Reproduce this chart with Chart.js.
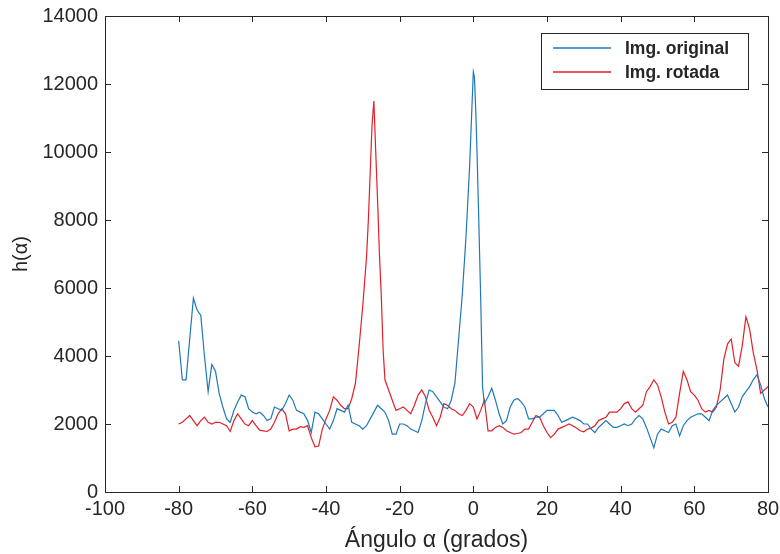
<!DOCTYPE html>
<html>
<head>
<meta charset="utf-8">
<script src="https://cdn.jsdelivr.net/npm/chart.js@4.4.1/dist/chart.umd.min.js"></script>
<style>
  html,body{margin:0;padding:0;background:#fff;}
  #wrap{width:780px;height:554px;}
</style>
</head>
<body>
<div id="wrap"><canvas id="chart" width="780" height="554"></canvas></div>
<script>
// ===== Datos =====
const xTicks = [-100,-80,-60,-40,-20,0,20,40,60,80];
const yTicks = [0,2000,4000,6000,8000,10000,12000,14000];

const angOriginal = [
  -80,-79,-78,-77,-76,-75,-74,-73,-72,-71,-70,-69,-68,-67,-66,-65,-64,-63,-62,-61,
  -60,-59,-58,-57,-56,-55,-54,-53,-52,-51,-50,-49,-48,-47,-46,-45,-44,-43,-42,-41,
  -40,-39,-38,-37,-36,-35,-34,-33,-32,-31,-30,-29,-28,-27,-26,-25,-24,-23,-22,-21,
  -20,-19,-18,-17,-16,-15,-14,-13,-12,-11,-10,-9,-8,-7,-6,-5,-4,-3,-2,-1,
  -0.5,0,0.3,0.7,1,1.5,2,2.5,3,4,5,6,7,8,9,10,11,12,13,14,
  15,16,17,18,19,20,21,22,23,24,25,26,27,28,29,30,31,32,33,34,
  35,36,37,38,39,40,41,42,43,44,45,46,47,48,49,50,51,52,53,54,
  55,56,57,58,59,60,61,62,63,64,65,66,67,68,69,70,71,72,73,74,
  75,76,77,78,79,80
];
const hOriginal = [
  4450,3300,3300,4500,5700,5350,5200,4000,2950,3750,3550,2900,2500,2150,2050,2400,2650,2850,2800,2450,
  2350,2300,2350,2250,2100,2150,2500,2450,2400,2600,2850,2700,2400,2350,2300,2100,1750,2350,2300,2150,
  2000,1850,2100,2450,2400,2350,2550,2050,2000,1950,1850,1950,2150,2350,2550,2450,2350,2100,1700,1700,
  2000,2000,1950,1850,1800,1750,2100,2600,3000,2950,2800,2650,2500,2450,2700,3200,4500,5800,7500,9600,
  11000,12350,12200,11100,10000,7900,5700,3100,2600,2800,3050,2700,2300,2000,2100,2500,2700,2750,2650,2500,
  2150,2150,2200,2200,2300,2400,2400,2400,2250,2050,2100,2150,2200,2150,2100,2000,2000,1850,1750,1900,
  2000,2100,2000,1900,1900,1950,2000,1950,2000,2150,2250,2150,1900,1600,1300,1700,1850,1800,1750,1950,
  2000,1650,1950,2100,2200,2250,2300,2300,2200,2100,2400,2550,2650,2750,2850,2600,2350,2500,2800,2950,
  3100,3300,3450,3150,2750,2500
];

const angRotada = [
  -80,-79,-78,-77,-76,-75,-74,-73,-72,-71,-70,-69,-68,-67,-66,-65,-64,-63,-62,-61,
  -60,-59,-58,-57,-56,-55,-54,-53,-52,-51,-50,-49,-48,-47,-46,-45,-44,-43,-42,-41,
  -40,-39,-38,-37,-36,-35,-34,-33,-32,-31,-30,-29,-28.5,-28,-27.5,-27,-26.5,-26,-25.5,-25,
  -24.5,-24,-23,-22,-21,-20,-19,-18,-17,-16,-15,-14,-13,-12,-11,-10,-9,-8,-7,-6,
  -5,-4,-3,-2,-1,0,1,2,3,4,5,6,7,8,9,10,11,12,13,14,
  15,16,17,18,19,20,21,22,23,24,25,26,27,28,29,30,31,32,33,34,
  35,36,37,38,39,40,41,42,43,44,45,46,47,48,49,50,51,52,53,54,
  55,56,57,58,59,60,61,62,63,64,65,66,67,68,69,70,71,72,73,74,
  75,76,77,78,79,80
];
const hRotada = [
  2000,2050,2150,2250,2100,1950,2100,2200,2050,2000,2050,2050,2000,1950,1780,2100,2300,2150,2000,1950,
  2100,1950,1820,1800,1780,1850,2050,2300,2450,2300,1800,1850,1850,1920,1900,1950,1600,1330,1350,1850,
  2150,2400,2800,2700,2550,2450,2450,2750,3200,4300,5500,6900,8000,9400,10800,11500,10000,8600,7000,5800,
  4200,3300,3000,2700,2400,2450,2500,2400,2300,2550,2850,3000,2800,2400,2200,1950,2200,2600,2550,2450,
  2400,2300,2250,2400,2600,2500,2150,2400,2700,1800,1800,1900,1950,1900,1800,1750,1700,1720,1750,1850,
  1850,2050,2250,2200,1950,1750,1600,1700,1850,1900,1950,2000,1950,1880,1800,1770,1850,1880,1950,2100,
  2150,2200,2350,2350,2350,2450,2600,2650,2450,2350,2450,2550,2950,3100,3300,3150,2800,2350,2000,2050,
  2200,2900,3550,3300,2950,2850,2700,2450,2350,2400,2350,2500,3000,3900,4350,4500,3800,3700,4300,5150,
  4800,4100,3600,2900,3000,3100
];

const axisColor = "#262626";
const fontFam = "'Liberation Sans', Arial, Helvetica, sans-serif";

// ===== Caja y ticks hacia dentro (estilo MATLAB) =====
const boxPlugin = {
  id: "boxPlugin",
  afterDraw(chart){
    const {ctx, chartArea:a, scales} = chart;
    ctx.save();
    ctx.strokeStyle = axisColor; ctx.lineWidth = 1;
    ctx.strokeRect(a.left+0.5, a.top+0.5, a.right-a.left, a.bottom-a.top);
    const len = 6;
    ctx.beginPath();
    xTicks.forEach(v=>{
      const px = Math.round(scales.x.getPixelForValue(v))+0.5;
      ctx.moveTo(px,a.bottom); ctx.lineTo(px,a.bottom-len);
      ctx.moveTo(px,a.top); ctx.lineTo(px,a.top+len);
    });
    yTicks.forEach(v=>{
      const py = Math.round(scales.y.getPixelForValue(v))+0.5;
      ctx.moveTo(a.left,py); ctx.lineTo(a.left+len,py);
      ctx.moveTo(a.right,py); ctx.lineTo(a.right-len,py);
    });
    ctx.stroke();

    // leyenda
    const bw = 207, bh = 56;
    const bx = a.right - 20 - bw, by = a.top + 17;
    ctx.fillStyle = "#fff";
    ctx.fillRect(bx, by, bw, bh);
    ctx.strokeStyle = axisColor;
    ctx.strokeRect(bx+0.5, by+0.5, bw, bh);
    ctx.font = "bold 17.5px " + fontFam;
    ctx.textBaseline = "middle";
    chart.data.datasets.forEach((ds,i)=>{
      const ly = by + 15 + i*24;
      ctx.strokeStyle = ds.borderColor; ctx.lineWidth = 1.3;
      ctx.beginPath(); ctx.moveTo(bx+12, ly); ctx.lineTo(bx+70, ly); ctx.stroke();
      ctx.fillStyle = axisColor;
      ctx.fillText(ds.label, bx+84, ly+1);
    });
    ctx.restore();
  }
};

new Chart(document.getElementById("chart"), {
  type: "line",
  data: {
    datasets: [
      {label:"Img. original", data: angOriginal.map((x,i)=>({x, y:hOriginal[i]})),
       borderColor:"#1f78b8", borderWidth:1.2, pointRadius:0, tension:0},
      {label:"Img. rotada", data: angRotada.map((x,i)=>({x, y:hRotada[i]})),
       borderColor:"#e0202a", borderWidth:1.2, pointRadius:0, tension:0}
    ]
  },
  options: {
    responsive: false,
    animation: false,
    layout: {padding:{top:16, right:12, left:0, bottom:0}},
    plugins: {legend:{display:false}, tooltip:{enabled:false}},
    scales: {
      x: {
        type: "linear", min: -100, max: 80,
        afterBuildTicks: s => { s.ticks = xTicks.map(v=>({value:v})); },
        afterFit: s => { s.height = 62; s.paddingLeft = 0; s.paddingRight = 0; },
        grid: {drawOnChartArea:false, drawTicks:false},
        border: {display:false},
        ticks: {color:axisColor, font:{family:fontFam, size:20}, padding:5, maxRotation:0,
                callback: v => String(v)},
        title: {display:true, text:"Ángulo α (grados)", color:axisColor,
                font:{family:fontFam, size:23}, padding:{top:0, bottom:0}}
      },
      y: {
        min: 0, max: 14000,
        afterBuildTicks: s => { s.ticks = yTicks.map(v=>({value:v})); },
        afterFit: s => { s.width = 105; s.paddingTop = 0; s.paddingBottom = 0; },
        grid: {drawOnChartArea:false, drawTicks:false},
        border: {display:false},
        ticks: {color:axisColor, font:{family:fontFam, size:20}, padding:7,
                callback: v => String(v)},
        title: {display:true, text:"h(α)", color:axisColor,
                font:{family:fontFam, size:20}, padding:{top:9, bottom:0}}
      }
    }
  },
  plugins: [boxPlugin]
});
</script>
</body>
</html>
